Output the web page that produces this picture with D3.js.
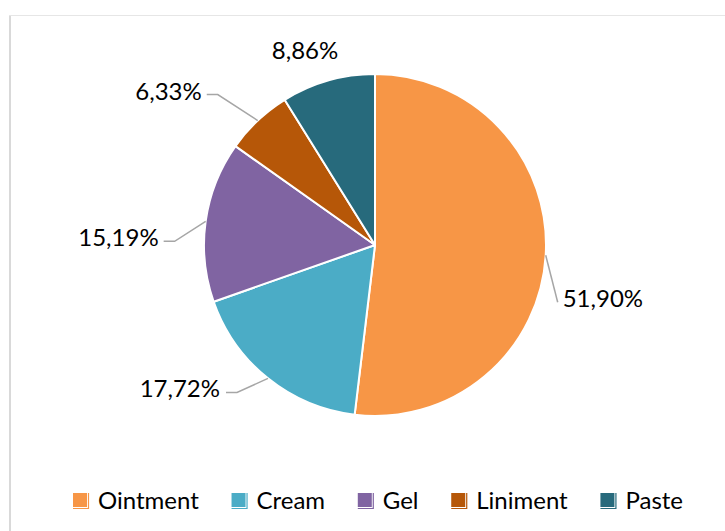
<!DOCTYPE html>
<html>
<head>
<meta charset="utf-8">
<script src="https://cdn.jsdelivr.net/npm/d3@7"></script>
<style>
  html, body { margin: 0; padding: 0; background: #ffffff; }
  svg { display: block; }
  text { font-family: "Lato", "Open Sans", sans-serif; fill: #000; }
</style>
</head>
<body>
<svg id="chart" width="725" height="531"></svg>
<script>
// Share of each dosage form (percent)
const categories = ["Ointment", "Cream", "Gel", "Liniment", "Paste"];
const shares = [51.90, 17.72, 15.19, 6.33, 8.86];
const labels = ["51,90%", "17,72%", "15,19%", "6,33%", "8,86%"];
const colors = ["#f79646", "#4bacc6", "#8064a2", "#b65708", "#276a7c"];

// Leader-line layout for each data label: elbow offset from the slice's
// outer midpoint, length of the horizontal tail, and text side.
const labelLayout = [
  { elbow: [12, 47], tail: 0, side: "right", gap: 5 },
  { elbow: [-31, 14], tail: 11, side: "left", gap: 6 },
  { elbow: [-31, 20], tail: 11, side: "left", gap: 5 },
  { elbow: [-40, -26], tail: 11, side: "left", gap: 5 },
  { elbow: [-23, -22], tail: null, side: "middle", gap: 0 }
];

const svg = d3.select("#chart");
const W = 725, H = 531;

// Chart area frame (left and top edges visible)
svg.append("line").attr("x1", 10).attr("y1", 15).attr("x2", 10).attr("y2", H)
  .attr("stroke", "#d9d9d9").attr("stroke-width", 2);
svg.append("line").attr("x1", 9).attr("y1", 15.5).attr("x2", W).attr("y2", 15.5)
  .attr("stroke", "#e6e6e6").attr("stroke-width", 1);

const cx = 375, cy = 245, R = 171;

const pie = d3.pie().sort(null).value(d => d.value);
const data = categories.map((c, i) => ({ name: c, value: shares[i], label: labels[i], color: colors[i], layout: labelLayout[i] }));
const arcs = pie(data);
const arc = d3.arc().innerRadius(0).outerRadius(R);

const g = svg.append("g").attr("transform", `translate(${cx},${cy})`);

g.selectAll("path.slice")
  .data(arcs)
  .join("path")
  .attr("class", "slice")
  .attr("d", arc)
  .attr("fill", d => d.data.color)
  .attr("stroke", "#ffffff")
  .attr("stroke-width", 2)
  .attr("stroke-linejoin", "round");

// Data labels with leader lines
arcs.forEach(d => {
  const mid = (d.startAngle + d.endAngle) / 2;
  const ex = R * Math.sin(mid), ey = -R * Math.cos(mid);
  const L = d.data.layout;
  const bx = ex + L.elbow[0], by = ey + L.elbow[1];
  let tx, anchor;
  if (L.tail === null) {
    tx = bx; anchor = "middle";
  } else {
    const dir = L.side === "left" ? -1 : 1;
    const endX = bx + dir * L.tail;
    g.append("polyline")
      .attr("points", [[ex, ey], [bx, by], [endX, by]].map(p => p.join(",")).join(" "))
      .attr("fill", "none")
      .attr("stroke", "#a6a6a6")
      .attr("stroke-width", 1.5);
    tx = endX + dir * L.gap;
    anchor = L.side === "left" ? "end" : "start";
  }
  g.append("text")
    .attr("x", tx)
    .attr("y", L.tail === null ? by : by + 5)
    .attr("text-anchor", anchor)
    .attr("font-size", 24)
    .text(d.data.label);
});

// Legend, spread across a fixed span
const legendLeft = 73, legendRight = 683, legendBase = 509;
const sw = 14, textOffset = 25;
const legend = svg.append("g");
const items = data.map(d => {
  const gi = legend.append("g");
  const t = gi.append("text").attr("font-size", 24).attr("y", legendBase).attr("x", textOffset).text(d.name);
  const w = textOffset + t.node().getComputedTextLength();
  // swatch: filled square with an offset outline on its lower-right edges
  gi.append("rect").attr("x", 0).attr("y", legendBase - 16).attr("width", sw).attr("height", sw).attr("fill", d.color);
  gi.append("polyline")
    .attr("points", `${sw + 1.5},${legendBase - 16} ${sw + 1.5},${legendBase - 16 + sw + 1.5} 0,${legendBase - 16 + sw + 1.5}`)
    .attr("fill", "none").attr("stroke", d.color).attr("stroke-width", 1.2);
  return { gi, w };
});
const totalW = d3.sum(items, d => d.w);
const gap = (legendRight - legendLeft - totalW) / (items.length - 1);
let x = legendLeft;
items.forEach(it => {
  it.gi.attr("transform", `translate(${x},0)`);
  x += it.w + gap;
});
</script>
</body>
</html>
